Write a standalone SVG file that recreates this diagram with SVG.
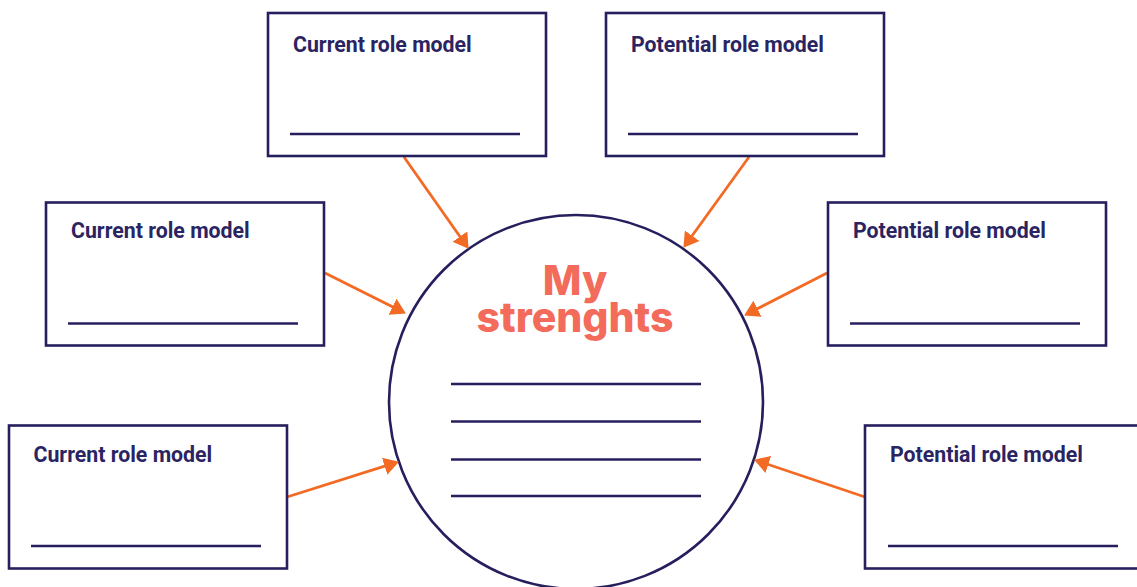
<svg xmlns="http://www.w3.org/2000/svg" width="1137" height="587" viewBox="0 0 1137 587">
  <style>
    .card { fill: #ffffff; stroke: #261f5e; stroke-width: 2.6; }
    .rule { stroke: #261f5e; stroke-width: 2.6; fill: none; }
    .label { font-family: Roboto, "Liberation Sans", sans-serif; font-weight: 700; font-size: 21.3px; fill: #2b2462; }
    .title { font-family: Inter, "Noto Sans", "Liberation Sans", sans-serif; font-weight: 800; font-size: 41px; fill: #f36b5b; text-anchor: middle; }
    .link { stroke: #f26a24; stroke-width: 2.8; fill: none; marker-end: url(#arrow); }
  </style>
  <defs>
    <marker id="arrow" markerUnits="userSpaceOnUse" markerWidth="16" markerHeight="18" viewBox="0 0 16 18" refX="10" refY="9" orient="auto">
      <path d="M0,0 L15,9 L0,18 z" fill="#f26a24"/>
    </marker>
  </defs>
  <rect width="1137" height="587" fill="#ffffff"/>

  <!-- central circle -->
  <g id="center">
    <circle cx="576" cy="402" r="187" fill="#ffffff" stroke="#261f5e" stroke-width="2.6"/>
    <text class="title"><tspan x="575" y="295">My</tspan><tspan x="575" y="332">strenghts</tspan></text>
    <line class="rule" x1="451" y1="384" x2="701" y2="384"/>
    <line class="rule" x1="451" y1="421.5" x2="701" y2="421.5"/>
    <line class="rule" x1="451" y1="459.5" x2="701" y2="459.5"/>
    <line class="rule" x1="451" y1="496" x2="701" y2="496"/>
  </g>

  <!-- connectors -->
  <g id="connectors">
    <line class="link" x1="404" y1="157" x2="465.7" y2="244.7"/>
    <line class="link" x1="749" y1="157" x2="686.3" y2="243.8"/>
    <line class="link" x1="325" y1="273" x2="401.4" y2="311.2"/>
    <line class="link" x1="827" y1="273" x2="748.6" y2="313.2"/>
    <line class="link" x1="287" y1="497" x2="394.2" y2="463.2"/>
    <line class="link" x1="865" y1="497" x2="758.8" y2="461.3"/>
  </g>

  <!-- role model cards -->
  <g id="current-top">
    <rect class="card" x="268" y="13" width="278" height="143"/>
    <text class="label" x="293" y="51.5">Current role model</text>
    <line class="rule" x1="290" y1="134" x2="520" y2="134"/>
  </g>
  <g id="potential-top">
    <rect class="card" x="606" y="13" width="278" height="143"/>
    <text class="label" x="631" y="51.5">Potential role model</text>
    <line class="rule" x1="628" y1="134" x2="858" y2="134"/>
  </g>
  <g id="current-middle">
    <rect class="card" x="46" y="202.5" width="278" height="143"/>
    <text class="label" x="71" y="238">Current role model</text>
    <line class="rule" x1="68" y1="323.5" x2="298" y2="323.5"/>
  </g>
  <g id="potential-middle">
    <rect class="card" x="828" y="202.5" width="278" height="143"/>
    <text class="label" x="853" y="238">Potential role model</text>
    <line class="rule" x1="850" y1="323.5" x2="1080" y2="323.5"/>
  </g>
  <g id="current-bottom">
    <rect class="card" x="9" y="425.5" width="278" height="143"/>
    <text class="label" x="33.5" y="461.5">Current role model</text>
    <line class="rule" x1="31" y1="546" x2="261" y2="546"/>
  </g>
  <g id="potential-bottom">
    <rect class="card" x="865" y="425.5" width="278" height="143"/>
    <text class="label" x="890" y="461.5">Potential role model</text>
    <line class="rule" x1="888" y1="546" x2="1118" y2="546"/>
  </g>
</svg>
